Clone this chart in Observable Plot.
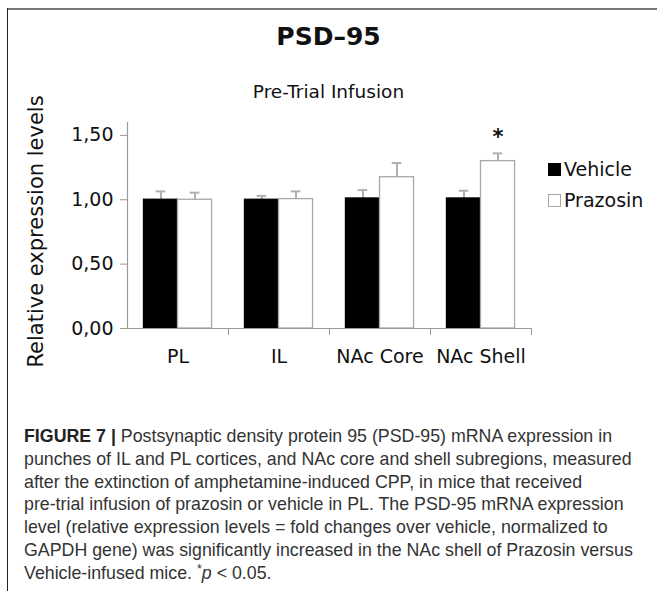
<!DOCTYPE html>
<html>
<head>
<meta charset="utf-8">
<script src="https://cdn.jsdelivr.net/npm/d3@7"></script>
<script src="https://cdn.jsdelivr.net/npm/@observablehq/plot@0.6"></script>
<style>
  html, body { margin: 0; padding: 0; background: #fff; }
  #wrap { position: relative; width: 657px; height: 591px; overflow: hidden; background: #fff; }
  .abs { position: absolute; white-space: nowrap; }
  #topline { position: absolute; left: 7px; right: 0; top: 8px; height: 2px; background: #777; }
  #leftline { position: absolute; left: 7px; width: 1px; top: 8px; bottom: 0; background: #222; }
  #title { left: 0; width: 657px; text-align: center; top: 24px; font: bold 25px/1 "DejaVu Sans"; color: #111; }
  #subtitle { left: 0; width: 657px; text-align: center; top: 83px; font: 18.5px/1 "DejaVu Sans"; color: #111; }
  #chart { position: absolute; left: 0; top: 0; }
  .leg { font: 19px/1 "DejaVu Sans"; color: #111; }
  .sw { position: absolute; width: 13px; height: 13px; box-sizing: border-box; }
  #caption { position: absolute; left: 24px; top: 425px; font: 17.8px/22.8px "Liberation Sans", Arial, sans-serif; color: #333; }
  #caption div { white-space: nowrap; height: 22.8px; }
  #caption b { color: #222; }
  #caption sup { font-size: 0.7em; line-height: 0; vertical-align: 0.45em; }
</style>
</head>
<body>
<div id="wrap">
  <div id="topline"></div>
  <div id="leftline"></div>
  <div id="chart"></div>
  <div id="title" class="abs">PSD–95</div>
  <div id="subtitle" class="abs">Pre-Trial Infusion</div>
  <div id="legend"></div>
  <div id="caption"></div>
</div>
<script>
// ---- data ----
const categories = ["PL", "IL", "NAc Core", "NAc Shell"];
const groups = ["Vehicle", "Prazosin"];
const vehicleMeans = [1.00, 1.00, 1.01, 1.01];
const vehicleSem = [0.065, 0.03, 0.065, 0.06];
const prazosinMeans = [1.00, 1.005, 1.175, 1.30];
const prazosinSem = [0.055, 0.06, 0.11, 0.06];
const significant = [false, false, false, true];
const yTicks = [0, 0.5, 1, 1.5];
const yTickLabels = ["0,00", "0,50", "1,00", "1,50"];
const groupFill = ["#000000", "#ffffff"];
const groupStroke = ["#000000", "#a8a8a8"];
const title = "PSD–95";
const subtitle = "Pre-Trial Infusion";
const yLabel = "Relative expression levels";

// ---- build rows ----
const barW = 0.337; // fraction of category band per bar
const rows = [];
categories.forEach((c, i) => {
  [vehicleMeans, prazosinMeans].forEach((means, g) => {
    const sem = g === 0 ? vehicleSem[i] : prazosinSem[i];
    const x1 = i + 0.5 - barW + g * barW;
    rows.push({cat: c, group: groups[g], g, x1, x2: x1 + barW, xc: x1 + barW / 2,
               mean: means[i], top: means[i] + sem, sig: g === 1 && significant[i]});
  });
});

const chart = Plot.plot({
  width: 657,
  height: 380,
  marginLeft: 127,
  marginRight: 126,
  marginTop: 122,
  marginBottom: 52,
  x: {domain: [0, categories.length]},
  y: {domain: [0, 1.6]},
  style: {fontFamily: "DejaVu Sans", fontSize: "19px", color: "#111", background: "transparent", overflow: "visible"},
  marks: [
    Plot.ruleX(rows, {x: "xc", y1: "mean", y2: "top", stroke: "#b0b0b0", strokeWidth: 2}),
    Plot.ruleY(rows, {y: "top", x1: d => d.xc - 0.048, x2: d => d.xc + 0.048, stroke: "#b0b0b0", strokeWidth: 2}),
    Plot.rectY(rows, {x1: "x1", x2: "x2", y1: 0, y2: "mean",
      fill: d => groupFill[d.g], stroke: d => groupStroke[d.g], strokeWidth: 1.3, inset: 0}),
    Plot.ruleX([0], {y1: 0, y2: 1.6, stroke: "#9a9a9a", strokeWidth: 1.2}),
    Plot.ruleY([0], {x1: 0, x2: categories.length, stroke: "#9a9a9a", strokeWidth: 1.2}),
    Plot.axisY({ticks: yTicks, tickFormat: d => yTickLabels[yTicks.indexOf(d)], tickSize: 7, tickPadding: 7, stroke: "#9a9a9a", fill: "#111", label: null}),
    Plot.axisX({ticks: d3.range(1, categories.length + 1), tickFormat: () => "", tickSize: 7, stroke: "#9a9a9a", label: null}),
    Plot.axisX({ticks: categories.map((c, i) => i + 0.5), tickFormat: d => categories[Math.floor(d)], tickSize: 0, tickPadding: 21, fill: "#111", label: null}),
    Plot.text(rows.filter(d => d.sig), {x: "xc", y: "top", text: () => "*", fontSize: 21, fontWeight: "bold", dy: -16, fill: "#111"}),
    Plot.text([yLabel], {frameAnchor: "left", textAnchor: "middle", rotate: -90, dx: -85, dy: 6, lineAnchor: "bottom", fontSize: 21, fill: "#111"})
  ]
});
document.getElementById("chart").appendChild(chart);
document.getElementById("title").textContent = title;
document.getElementById("subtitle").textContent = subtitle;

// ---- legend ----
const legend = document.getElementById("legend");
groups.forEach((g, k) => {
  const top = 163 + k * 31;
  const sw = document.createElement("div");
  sw.className = "sw";
  sw.style.left = "548px";
  sw.style.top = top + "px";
  sw.style.background = groupFill[k];
  sw.style.border = "1.3px solid " + groupStroke[k];
  legend.appendChild(sw);
  const t = document.createElement("div");
  t.className = "abs leg";
  t.style.left = "564px";
  t.style.top = (top - 3) + "px";
  t.textContent = g;
  legend.appendChild(t);
});

// ---- caption ----
const captionLines = [
  "<b>FIGURE 7 |</b> Postsynaptic density protein 95 (PSD-95) mRNA expression in",
  "punches of IL and PL cortices, and NAc core and shell subregions, measured",
  "after the extinction of amphetamine-induced CPP, in mice that received",
  "pre-trial infusion of prazosin or vehicle in PL. The PSD-95 mRNA expression",
  "level (relative expression levels = fold changes over vehicle, normalized to",
  "GAPDH gene) was significantly increased in the NAc shell of Prazosin versus",
  "Vehicle-infused mice. <sup>*</sup><i>p</i> &lt; 0.05."
];
document.getElementById("caption").innerHTML = captionLines.map(l => "<div>" + l + "</div>").join("");
</script>
</body>
</html>
